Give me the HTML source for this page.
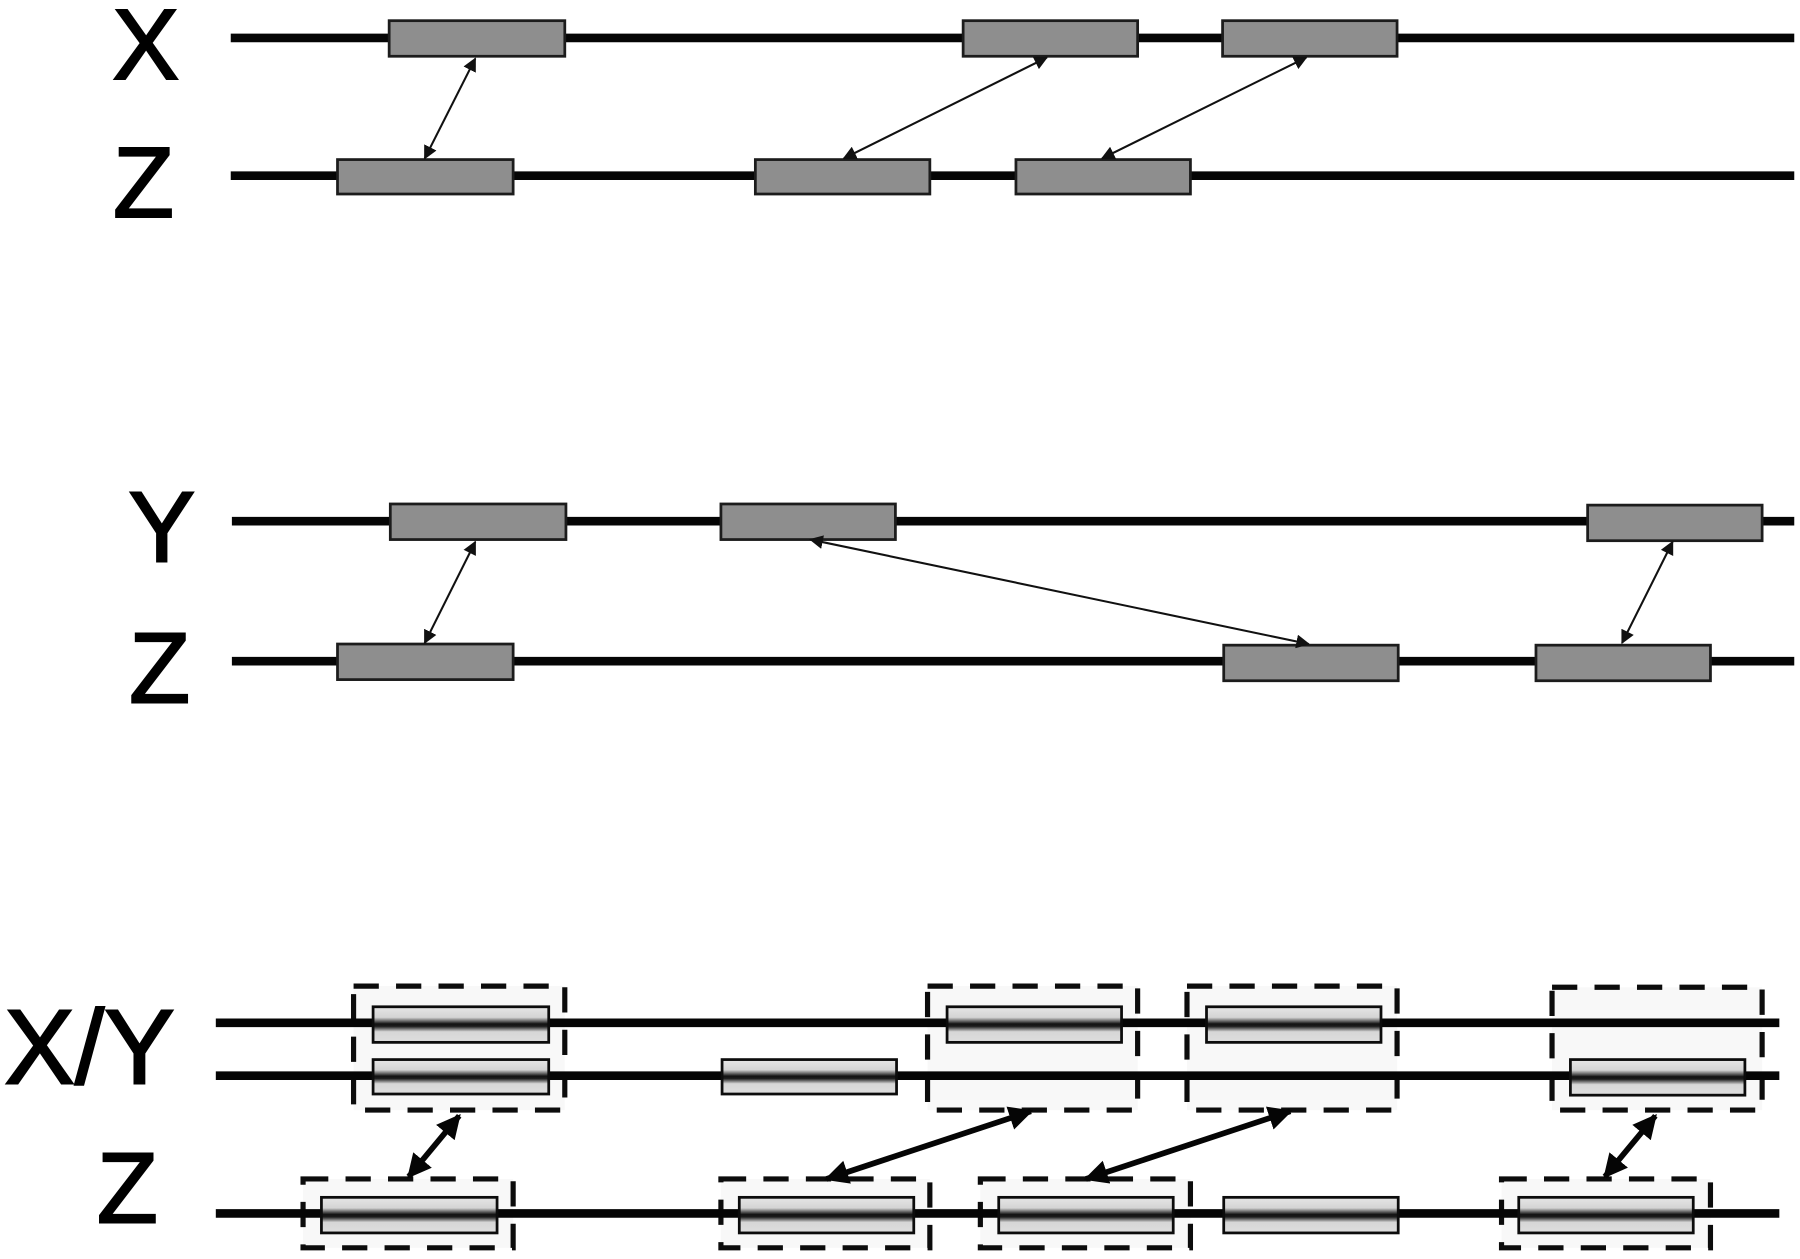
<!DOCTYPE html>
<html><head><meta charset="utf-8"><style>
html,body{margin:0;padding:0;background:#fff}
svg{display:block}
text{font-family:"Liberation Sans",sans-serif;fill:#000;stroke:#000;stroke-width:1.8;font-size:87px;text-anchor:middle}
.l{stroke:#050505;stroke-width:7.5}
.d{fill:#8e8e8e;stroke:#1c1c1c;stroke-width:2.4}
.g{fill:url(#g);stroke:#0c0c0c;stroke-width:2.4}
.b{fill:#f8f8f8;stroke:#0c0c0c;stroke-width:4.5;stroke-dasharray:22 15}
.t{stroke:#111;stroke-width:1.8;marker-start:url(#a);marker-end:url(#a)}
.k{stroke:#050505;stroke-width:5;marker-start:url(#k);marker-end:url(#k)}
</style></head><body>
<svg width="1800" height="1259" viewBox="0 0 1568 1096.7" xmlns="http://www.w3.org/2000/svg">
<defs>
<linearGradient id="g" x1="0" y1="0" x2="0" y2="1">
<stop offset="0" stop-color="#e6e6e6"/><stop offset=".3" stop-color="#d4d4d4"/><stop offset=".48" stop-color="#121212"/><stop offset=".55" stop-color="#1c1c1c"/><stop offset=".7" stop-color="#d6d6d6"/><stop offset="1" stop-color="#dedede"/>
</linearGradient>
<marker id="a" viewBox="0 0 10 10" refX="9" refY="5" markerWidth="12" markerHeight="12" markerUnits="userSpaceOnUse" orient="auto-start-reverse"><path d="M0 0L10 5L0 10z" fill="#111"/></marker>
<marker id="k" viewBox="0 0 10 10" refX="9" refY="5" markerWidth="21" markerHeight="21" markerUnits="userSpaceOnUse" orient="auto-start-reverse"><path d="M0 0L10 5L0 10z" fill="#050505"/></marker>
</defs>
<text x="127" y="69">X</text>
<text x="125" y="189">Z</text>
<text x="141" y="489">Y</text>
<text x="139" y="612">Z</text>
<text x="78" y="944" style="font-size:92px">X/Y</text>
<text x="111" y="1065">Z</text>

<line class="l" x1="201" y1="33" x2="1563" y2="33"/>
<line class="l" x1="201" y1="153" x2="1563" y2="153"/>
<line class="l" x1="202" y1="454" x2="1563" y2="454"/>
<line class="l" x1="202" y1="576" x2="1563" y2="576"/>

<rect class="d" x="339" y="18" width="153" height="31"/>
<rect class="d" x="839" y="18" width="152" height="31"/>
<rect class="d" x="1065" y="18" width="152" height="31"/>
<rect class="d" x="294" y="139" width="153" height="30"/>
<rect class="d" x="658" y="139" width="152" height="30"/>
<rect class="d" x="885" y="139" width="152" height="30"/>
<rect class="d" x="340" y="439" width="153" height="31"/>
<rect class="d" x="628" y="439" width="152" height="31"/>
<rect class="d" x="1383" y="440" width="152" height="31"/>
<rect class="d" x="294" y="561" width="153" height="31"/>
<rect class="d" x="1066" y="562" width="152" height="31"/>
<rect class="d" x="1338" y="562" width="152" height="31"/>

<line class="t" x1="414" y1="51" x2="370" y2="138"/>
<line class="t" x1="912" y1="50" x2="735" y2="138"/>
<line class="t" x1="1138" y1="50" x2="960" y2="138"/>
<line class="t" x1="414" y1="472" x2="370" y2="560"/>
<line class="t" x1="706" y1="470" x2="1140" y2="561"/>
<line class="t" x1="1457" y1="472" x2="1413" y2="560"/>

<rect class="b" x="308" y="859" width="184" height="108"/>
<rect class="b" x="808" y="859" width="183" height="108"/>
<rect class="b" x="1034" y="859" width="183" height="108"/>
<rect class="b" x="1352" y="860" width="183" height="107"/>
<rect class="b" x="264" y="1027" width="183" height="60"/>
<rect class="b" x="628" y="1027" width="182" height="60"/>
<rect class="b" x="854" y="1027" width="183" height="60"/>
<rect class="b" x="1308" y="1027" width="182" height="60"/>

<line class="l" x1="188" y1="891" x2="1550" y2="891"/>
<line class="l" x1="188" y1="937" x2="1550" y2="937"/>
<line class="l" x1="188" y1="1057" x2="1550" y2="1057"/>

<rect class="g" x="325" y="877" width="153" height="31"/>
<rect class="g" x="825" y="877" width="152" height="31"/>
<rect class="g" x="1051" y="877" width="152" height="31"/>
<rect class="g" x="325" y="923" width="153" height="30"/>
<rect class="g" x="629" y="923" width="152" height="30"/>
<rect class="g" x="1368" y="923" width="152" height="31"/>
<rect class="g" x="280" y="1043" width="153" height="31"/>
<rect class="g" x="644" y="1043" width="152" height="31"/>
<rect class="g" x="870" y="1043" width="152" height="31"/>
<rect class="g" x="1066" y="1043" width="152" height="31"/>
<rect class="g" x="1323" y="1043" width="152" height="31"/>

<line class="k" x1="400" y1="972" x2="356" y2="1025"/>
<line class="k" x1="898" y1="968" x2="720" y2="1027"/>
<line class="k" x1="1124" y1="968" x2="946" y2="1027"/>
<line class="k" x1="1442" y1="972" x2="1398" y2="1025"/>
</svg>
</body></html>
